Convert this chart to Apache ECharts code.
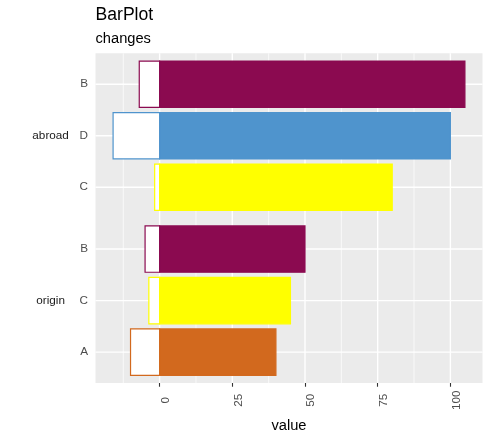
<!DOCTYPE html>
<html>
<head>
<meta charset="utf-8">
<title>BarPlot</title>
<script src="https://cdn.jsdelivr.net/npm/echarts@6/dist/echarts.min.js"></script>
<style>
  html, body { margin: 0; padding: 0; background: #fff; }
  #chart { width: 490px; height: 438px; }
</style>
</head>
<body>
<div id="chart"></div>
<script>
// 数据：从下往上排列
const groups = ['origin', 'abroad'];
const groupPositions = [2, 5.2];
const categories = ['A', 'C', 'B', 'C', 'D', 'B'];
const positions = [1, 2, 3, 4.2, 5.2, 6.2];
const positives = [40, 45, 50, 80, 100, 105];
const negatives = [-10, -3.7, -5, -1.7, -16, -7];
const xMajorTicks = [0, 25, 50, 75, 100];
const xMinorTicks = [-12.5, 12.5, 37.5, 62.5, 87.5];

const palette = { A: '#D2691E', B: '#8B0A50', C: '#FFFF00', D: '#4F94CD' };
const font = 'Liberation Sans, Arial, sans-serif';

const barData = [];
categories.forEach((c, i) => {
  barData.push([positives[i], positions[i], i, 1]);
  barData.push([negatives[i], positions[i], i, 0]);
});

// 画柱子
const renderBar = (params, api) => {
  const v = api.value(0);
  const y = api.value(1);
  const idx = api.value(2);
  const filled = api.value(3) === 1;
  const color = palette[categories[idx]];
  const p0 = api.coord([0, y]);
  const p1 = api.coord([v, y]);
  const h = api.size([0, 0.9])[1];
  return {
    type: 'rect',
    shape: {
      x: Math.min(p0[0], p1[0]),
      y: p0[1] - h / 2,
      width: Math.abs(p1[0] - p0[0]),
      height: h,
    },
    style: { fill: filled ? color : '#ffffff', stroke: color, lineWidth: 1.2 },
  };
};

// 网格线
const renderVLine = (width) => (params, api) => {
  const cs = params.coordSys;
  const x = api.coord([api.value(0), 1])[0];
  return {
    type: 'line',
    shape: { x1: x, y1: cs.y, x2: x, y2: cs.y + cs.height },
    style: { stroke: '#ffffff', lineWidth: width },
    silent: true,
  };
};
const renderHLine = (params, api) => {
  const cs = params.coordSys;
  const y = api.coord([0, api.value(0)])[1];
  return {
    type: 'line',
    shape: { x1: cs.x, y1: y, x2: cs.x + cs.width, y2: y },
    style: { stroke: '#ffffff', lineWidth: 1.4 },
    silent: true,
  };
};

const chart = echarts.init(document.getElementById('chart'));

const options = {
  animation: false,
  backgroundColor: '#ffffff',
  title: {
    text: 'BarPlot',
    subtext: 'changes',
    left: 95.5,
    top: 6.8,
    padding: 0,
    itemGap: 7.2,
    textStyle: { fontFamily: font, fontSize: 17.6, fontWeight: 'normal', color: '#000', lineHeight: 17.6 },
    subtextStyle: { fontFamily: font, fontSize: 14.67, color: '#000', lineHeight: 14.67 },
  },
  grid: {
    left: 95.5,
    top: 53.3,
    width: 387,
    height: 330.4,
    show: true,
    backgroundColor: '#EBEBEB',
    borderWidth: 0,
  },
  xAxis: {
    type: 'value',
    min: -22.05,
    max: 111.05,
    name: 'value',
    nameLocation: 'middle',
    nameGap: 39.2,
    nameTextStyle: { fontFamily: font, fontSize: 14.67, color: '#000', verticalAlign: 'middle' },
    axisLine: { show: false },
    splitLine: { show: false },
    axisTick: { show: true, customValues: xMajorTicks, length: 3.7, lineStyle: { color: '#333333', width: 1.1 } },
    axisLabel: {
      customValues: xMajorTicks,
      rotate: 90,
      align: 'center',
      verticalAlign: 'top',
      margin: 17.3,
      fontFamily: font,
      fontSize: 11.73,
      color: '#4D4D4D',
    },
  },
  yAxis: [
    {
      type: 'value',
      min: 0.4,
      max: 6.8,
      axisLine: { show: false },
      splitLine: { show: false },
      axisTick: { show: true, customValues: positions, length: 3.7, lineStyle: { color: '#333333', width: 1.1 } },
      axisLabel: {
        customValues: positions,
        formatter: (val) => categories[positions.indexOf(val)],
        margin: 7.5,
        fontFamily: font,
        fontSize: 11.73,
        color: '#4D4D4D',
      },
    },
    {
      type: 'value',
      position: 'left',
      min: 0.4,
      max: 6.8,
      axisLine: { show: false },
      splitLine: { show: false },
      axisTick: { show: false },
      axisLabel: {
        customValues: groupPositions,
        formatter: (val) => groups[groupPositions.indexOf(val)],
        align: 'center',
        margin: 44.9,
        fontFamily: font,
        fontSize: 11.73,
        color: '#1A1A1A',
      },
    },
  ],
  series: [
    { type: 'custom', renderItem: renderVLine(0.7), data: xMinorTicks.map((v) => [v]), z: 1 },
    { type: 'custom', renderItem: renderVLine(1.4), data: xMajorTicks.map((v) => [v]), z: 1 },
    { type: 'custom', renderItem: renderHLine, data: positions.map((v) => [v]), z: 1 },
    {
      type: 'custom',
      renderItem: renderBar,
      data: barData,
      encode: { x: 0, y: 1 },
      z: 2,
    },
  ],
};

chart.setOption(options);
</script>
</body>
</html>
